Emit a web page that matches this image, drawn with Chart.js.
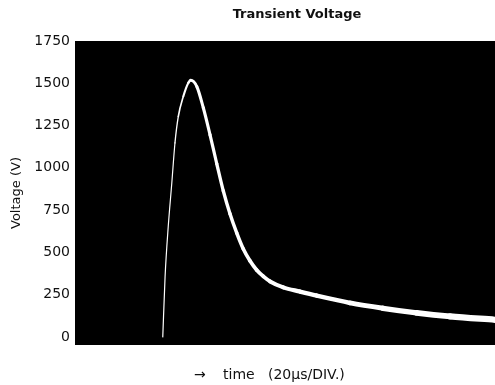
<!DOCTYPE html>
<html><head><meta charset="utf-8">
<script src="https://cdn.jsdelivr.net/npm/chart.js@4/dist/chart.umd.min.js"></script>
<style>html,body{margin:0;padding:0;background:#fff}#wrap{width:495px;height:385px}</style>
</head><body><div id="wrap"><canvas id="c" width="495" height="385"></canvas></div>
<script>
const chartTitle = 'Transient Voltage';
const yAxisTitle = 'Voltage (V)';
const xAxisArrow = '→';
const xAxisWord = 'time';
const xAxisUnit = '(20μs/DIV.)';
const yTickValues = [0, 250, 500, 750, 1000, 1250, 1500, 1750];
// time in microseconds (20 µs per division, 10 divisions)
const riseTime = [41.8, 42.9, 44.4, 46.1, 47.6, 49.2, 51.6, 54.0, 55.1];
const riseVolt = [0, 357, 653, 910, 1147, 1304, 1423, 1503, 1518];
const decayTime = [58.0, 61.1, 64.3, 67.5, 70.6, 73.8, 77.0, 80.1, 83.3, 86.5, 89.7, 92.9, 99.2, 107.1, 115.1, 131.0, 146.7, 162.7, 178.6, 200];
const decayVolt = [1481, 1355, 1195, 1024, 864, 728, 615, 521, 450, 396, 358, 328, 293, 268, 244, 201, 169, 142, 121, 101];

const points = riseTime.map((t, i) => ({x: t, y: riseVolt[i]}))
  .concat(decayTime.map((t, i) => ({x: t, y: decayVolt[i]})));

const bgPlugin = {
  id: 'bg',
  beforeDraw(chart) {
    const {ctx, chartArea: a} = chart;
    ctx.save();
    ctx.fillStyle = '#fff';
    ctx.fillRect(0, 0, chart.width, chart.height);
    ctx.fillStyle = '#000';
    ctx.fillRect(a.left, a.top, a.right - a.left, a.bottom - a.top);
    ctx.restore();
  }
};
const textPlugin = {
  id: 'texts',
  afterDraw(chart) {
    const ctx = chart.ctx;
    ctx.save();
    ctx.fillStyle = '#111';
    ctx.textBaseline = 'middle';
    ctx.textAlign = 'center';
    ctx.font = 'bold 13px "DejaVu Sans"';
    ctx.fillText(chartTitle, 297, 15);
    ctx.textAlign = 'left';
    ctx.font = '14px "DejaVu Sans"';
    ctx.fillText(xAxisArrow, 194, 375);
    ctx.fillText(xAxisWord, 223, 375);
    ctx.fillText(xAxisUnit, 268, 375);
    ctx.restore();
  }
};

new Chart(document.getElementById('c'), {
  type: 'line',
  data: {
    datasets: [{
      data: points,
      borderColor: '#fff',
      borderWidth: 3,
      pointRadius: 0,
      cubicInterpolationMode: 'monotone',
      borderCapStyle: 'round',
      borderJoinStyle: 'round',
      segment: {
        borderWidth: ctx => {
          const x = ctx.p0.parsed.x;
          if (x < 47) return 1.2;
          if (x < 56) return 1.2 + (x - 47) / 9 * 1.8;
          return 3 + (x - 56) / 144 * 3.8;
        }
      }
    }]
  },
  options: {
    responsive: false,
    devicePixelRatio: 1,
    animation: false,
    layout: {padding: {top: 41, bottom: 40, left: 0, right: 0}},
    plugins: {legend: {display: false}, title: {display: false}, tooltip: {enabled: false}},
    scales: {
      x: {type: 'linear', min: 0, max: 200, display: false},
      y: {
        type: 'linear', min: -48, max: 1750,
        afterBuildTicks: s => { s.ticks = yTickValues.map(v => ({value: v})); },
        afterFit: s => { s.width = 75; },
        grid: {display: false, drawTicks: false},
        border: {display: false},
        ticks: {color: '#111', padding: 5, font: {family: 'DejaVu Sans', size: 14}, callback: v => String(v)},
        title: {display: true, text: yAxisTitle, color: '#111', font: {family: 'DejaVu Sans', size: 13}, padding: {top: 9, bottom: 0}}
      }
    }
  },
  plugins: [bgPlugin, textPlugin]
});
</script>
</body></html>
